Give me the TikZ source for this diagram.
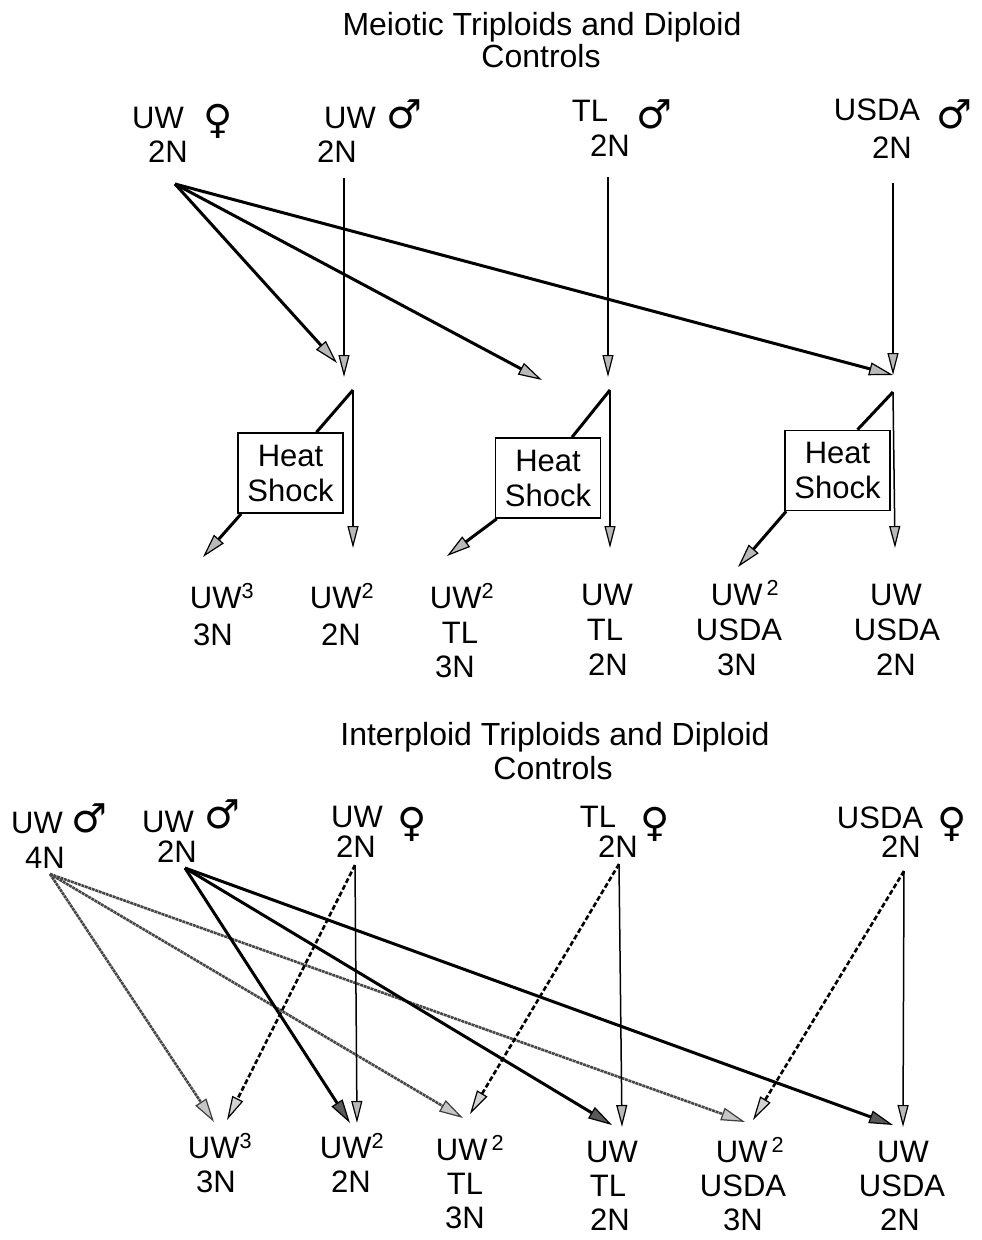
\documentclass[tikz,border=0pt]{standalone}
\usepackage{fontspec}
\setmainfont{Liberation Sans}
\newfontfamily\sexfam{DejaVu Sans}
\usetikzlibrary{arrows.meta,calc}
\newcommand\labfont{\fontsize{31}{35}\selectfont}
\newcommand\titfont{\fontsize{32}{36}\selectfont}
\newcommand\hsfont{\fontsize{31}{35}\selectfont}
\newcommand\sexfont{\sexfam\fontsize{40}{40}\selectfont}
\newcommand\mysup[1]{\textsuperscript{#1}}
\begin{document}
\begin{tikzpicture}[x=1pt,y=-1pt,
  lbl/.style={font=\labfont, inner sep=0pt, anchor=base},
  ttl/.style={font=\titfont, inner sep=0pt, anchor=base},
  sex/.style={font=\sexfont, inner sep=0pt, anchor=center},
  hsbox/.style={draw, line width=1.6pt, minimum width=105pt, minimum height=80pt, align=center, font=\hsfont, inner sep=0pt},
  thinarr/.style={line width=1.5pt, -{Triangle[length=22pt,width=11pt,line width=1.2pt,fill=gray!55]}},
  thickarr/.style={line width=3pt, -{Triangle[length=24pt,width=13pt,line width=1.2pt,fill=gray!55]}},
  boldln/.style={line width=3pt},
  greyarr/.style={line width=2.6pt, draw=black!72, dash pattern=on 3pt off 0.7pt, -{Triangle[length=24pt,width=13pt,line width=1.2pt,fill=gray!45,color=black!75]}},
  dasharr/.style={line width=2.6pt, dash pattern=on 5pt off 2.5pt, -{Triangle[length=24pt,width=12pt,line width=1.2pt,fill=gray!35]}},
  solidarr/.style={line width=3pt, -{Triangle[length=24pt,width=13pt,line width=1.2pt,fill=black!65]}},
]
\useasboundingbox[fill=white] (0,0) rectangle (982,1240);

% ---------- top title
\node[ttl] (t1a) at (542,35) {Meiotic Triploids and Diploid};
\node[ttl] (t1b) at (541,67) {Controls};

% ---------- top parents
\node[lbl] (pA1) at (158,128) {UW};
\node[sex] (pAs) at (218,121) {♀};
\node[lbl] (pA2) at (168,162) {2N};
\node[lbl] (pB1) at (350,128) {UW};
\node[sex] (pBs) at (404,114) {♂};
\node[lbl] (pB2) at (337,162) {2N};
\node[lbl] (pC1) at (590,121) {TL};
\node[sex] (pCs) at (654,114) {♂};
\node[lbl] (pC2) at (610,156) {2N};
\node[lbl] (pD1) at (877,120) {USDA};
\node[sex] (pDs) at (954,114) {♂};
\node[lbl] (pD2) at (892,158) {2N};

% ---------- top coordinates
\coordinate (s0) at (175,184);
\coordinate (t1) at (337,363);
\coordinate (t2) at (542,380);
\coordinate (t3) at (893,375);
\coordinate (v1s) at (344,178);
\coordinate (v1e) at (344,377);
\coordinate (v2s) at (608,177);
\coordinate (v2e) at (608,377);
\coordinate (v3s) at (893,183);
\coordinate (h1) at (353,390);
\coordinate (h1e) at (353,548);
\coordinate (h2) at (610,390);
\coordinate (h2e) at (610,548);
\coordinate (h3) at (893,392);
\coordinate (h3e) at (895,548);
\coordinate (k1) at (203,557);
\coordinate (k2) at (447,556);
\coordinate (k3) at (738,567);

% heat shock boxes
\node[hsbox] (hs1) at (290.5,473) {Heat\\Shock};
\node[hsbox] (hs2) at (548,478) {Heat\\Shock};
\node[hsbox] (hs3) at (837.5,470.5) {Heat\\Shock};

% top arrows
\draw[thickarr] (s0) -- (t1);
\draw[thickarr] (s0) -- (t2);
\draw[thickarr] (s0) -- (t3);
\draw[thinarr] (v1s) -- (v1e);
\draw[thinarr] (v2s) -- (v2e);
\draw[thinarr] (v3s) -- (t3);

\draw[boldln] (h1) -- ([xshift=26pt]hs1.north);
\draw[boldln] (h2) -- ([xshift=24pt]hs2.north);
\draw[boldln] (h3) -- ([xshift=20pt]hs3.north);
\draw[thinarr] (h1) -- (h1e);
\draw[thinarr] (h2) -- (h2e);
\draw[thinarr] (h3) -- (h3e);
\draw[thickarr] ([xshift=4pt]hs1.south west) -- (k1);
\draw[thickarr] ([xshift=2pt]hs2.south west) -- (k2);
\draw[thickarr] ([xshift=2pt]hs3.south west) -- (k3);

% top offspring labels
\node[lbl] (c1a) at (222,608) {UW\mysup{3}};
\node[lbl] (c1b) at (213,645) {3N};
\node[lbl] (c2a) at (342,608) {UW\mysup{2}};
\node[lbl] (c2b) at (341,645) {2N};
\node[lbl] (c3a) at (462,608) {UW\mysup{2}};
\node[lbl] (c3b) at (460,643) {TL};
\node[lbl] (c3c) at (455,677) {3N};
\node[lbl] (c4a) at (607,605) {UW};
\node[lbl] (c4b) at (605,640) {TL};
\node[lbl] (c4c) at (608,675) {2N};
\node[lbl] (c5a) at (745,605) {UW\hspace{4pt}\mysup{2}};
\node[lbl] (c5b) at (739,640) {USDA};
\node[lbl] (c5c) at (737,675) {3N};
\node[lbl] (c6a) at (896,605) {UW};
\node[lbl] (c6b) at (897,640) {USDA};
\node[lbl] (c6c) at (896,675) {2N};

% ---------- bottom title
\node[ttl] (t2a) at (555,745) {Interploid Triploids and Diploid};
\node[ttl] (t2b) at (553,779) {Controls};

% ---------- bottom parents
\node[lbl] (qA1) at (37,833) {UW};
\node[sex] (qAs) at (89,818) {♂};
\node[lbl] (qA2) at (45,868) {4N};
\node[lbl] (qB1) at (168,832) {UW};
\node[sex] (qBs) at (222,814) {♂};
\node[lbl] (qB2) at (177,862) {2N};
\node[lbl] (qC1) at (357,827) {UW};
\node[sex] (qCs) at (412,824) {♀};
\node[lbl] (qC2) at (356,857) {2N};
\node[lbl] (qD1) at (598,827) {TL};
\node[sex] (qDs) at (655,824) {♀};
\node[lbl] (qD2) at (618,857) {2N};
\node[lbl] (qE1) at (880,828) {USDA};
\node[sex] (qEs) at (952,824) {♀};
\node[lbl] (qE2) at (901,857) {2N};

% ---------- bottom coordinates
\coordinate (b4N) at (50,874);
\coordinate (b2N) at (185,868);
\coordinate (bUW) at (355,865);
\coordinate (bTL) at (619,864);
\coordinate (bUS) at (904,871);
\coordinate (e1a) at (214,1122);
\coordinate (e1b) at (227,1120);
\coordinate (e2a) at (350,1123);
\coordinate (e2b) at (357,1123);
\coordinate (e3a) at (463,1118);
\coordinate (e3b) at (470,1114);
\coordinate (e4a) at (612,1125);
\coordinate (e4b) at (622,1127);
\coordinate (e5a) at (745,1122);
\coordinate (e5b) at (753,1120);
\coordinate (e6a) at (893,1125);
\coordinate (e6b) at (903,1127);

% bottom arrows
\draw[greyarr] (b4N) -- (e1a);
\draw[greyarr] (b4N) -- (e3a);
\draw[greyarr] (b4N) -- (e5a);
\draw[solidarr] (b2N) -- (e2a);
\draw[solidarr] (b2N) -- (e4a);
\draw[solidarr] (b2N) -- (e6a);
\draw[dasharr] (bUW) -- (e1b);
\draw[thinarr] (bUW) -- (e2b);
\draw[dasharr] (bTL) -- (e3b);
\draw[thinarr] (bTL) -- (e4b);
\draw[dasharr] (bUS) -- (e5b);
\draw[thinarr] (bUS) -- (e6b);

% bottom offspring labels
\node[lbl] (d1a) at (220,1158) {UW\mysup{3}};
\node[lbl] (d1b) at (216,1192) {3N};
\node[lbl] (d2a) at (352,1158) {UW\mysup{2}};
\node[lbl] (d2b) at (351,1192) {2N};
\node[lbl] (d3a) at (470,1160) {UW\hspace{4pt}\mysup{2}};
\node[lbl] (d3b) at (465,1194) {TL};
\node[lbl] (d3c) at (465,1228) {3N};
\node[lbl] (d4a) at (612,1162) {UW};
\node[lbl] (d4b) at (608,1196) {TL};
\node[lbl] (d4c) at (610,1230) {2N};
\node[lbl] (d5a) at (750,1162) {UW\hspace{4pt}\mysup{2}};
\node[lbl] (d5b) at (743,1196) {USDA};
\node[lbl] (d5c) at (743,1230) {3N};
\node[lbl] (d6a) at (903,1162) {UW};
\node[lbl] (d6b) at (902,1196) {USDA};
\node[lbl] (d6c) at (900,1230) {2N};
\end{tikzpicture}
\end{document}
